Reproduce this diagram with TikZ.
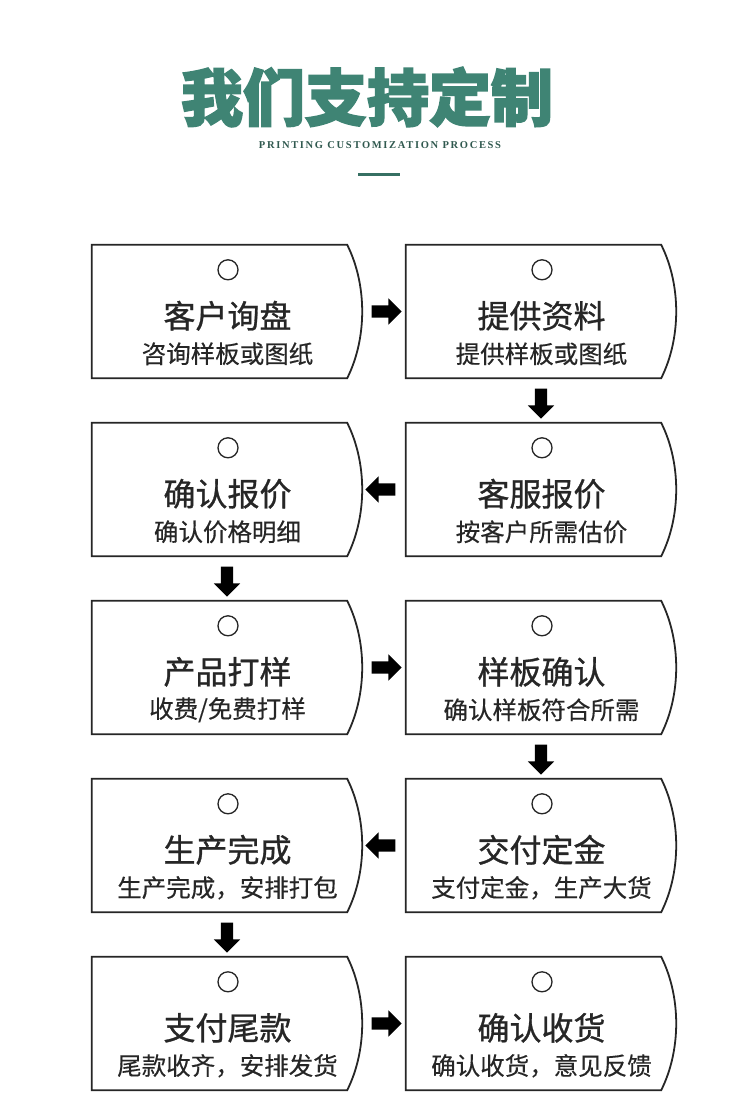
\documentclass[tikz,border=0pt]{standalone}
\usepackage{fontspec}
\newfontfamily\cjk{Noto Sans CJK SC}
\newfontfamily\cjkmid[FakeBold=0.9]{Noto Sans CJK SC}
\newfontfamily\cjklite[FakeBold=0.3]{Noto Sans CJK SC}
\newfontfamily\cjkheavy[BoldFeatures={FakeBold=2.5}]{Noto Sans CJK SC}
\newfontfamily\spaced[LetterSpace=16]{Liberation Serif}
\usepackage{xcolor}
\usepackage{tikz}
\usetikzlibrary{positioning,calc,shapes.arrows}
\definecolor{brand}{HTML}{3F8474}
\definecolor{brandDark}{HTML}{30594F}
\definecolor{ink}{HTML}{262626}

\begin{document}
\begin{tikzpicture}[x=1pt,y=-1pt,
  card/.style={minimum width=255pt,minimum height=133pt,inner sep=0pt},
  edge/.style={draw=ink,line width=1.8pt,line join=miter},
  ring/.style={circle,draw=ink,line width=1.3pt,minimum size=20pt,inner sep=0pt},
  ttl/.style={font=\cjkmid\fontsize{32}{36}\selectfont,text=ink,inner sep=0pt},
  sub/.style={font=\cjklite\fontsize{24.5}{28}\selectfont,text=ink,inner sep=0pt},
  blk/.style={single arrow,fill=black,draw=none,inner sep=6pt,minimum height=30pt,
    single arrow head extend=7pt,single arrow tip angle=90}]
  \useasboundingbox[fill=white] (0,0) rectangle (750,1103);
  % heading
  \node[font=\cjkheavy\bfseries\fontsize{62}{66}\selectfont,text=brand,inner sep=0pt] (head) at (367,97) {我们支持定制};
  \node[font=\spaced\bfseries\fontsize{10.5}{12}\selectfont,text=brandDark,inner sep=0pt] (tag) at (380,145) {PRINTING CUSTOMIZATION PROCESS};
  \draw[brand!85!black,line width=3pt] (358,174) -- (400,174);
  % the ten steps
  \foreach \n/\x/\y/\t/\s in {
    s1/219.5/311.5/客户询盘/咨询样板或图纸,
    s2/533.5/311.5/提供资料/提供样板或图纸,
    s3/533.5/489.5/客服报价/按客户所需估价,
    s4/219.5/489.5/确认报价/确认价格明细,
    s5/219.5/667.5/产品打样/{收费/免费打样},
    s6/533.5/667.5/样板确认/确认样板符合所需,
    s7/533.5/845.5/交付定金/支付定金，生产大货,
    s8/219.5/845.5/生产完成/生产完成，安排打包,
    s9/219.5/1023.5/支付尾款/尾款收齐，安排发货,
    s10/533.5/1023.5/确认收货/确认收货，意见反馈}{
    \node[card] (\n) at (\x,\y) {};
    \draw[edge] (\n.north west) -- (\n.north east) .. controls +(20,40) and +(20,-40) .. (\n.south east) -- (\n.south west) -- cycle;
    \node[ring] (\n-o) at ($(\n.north)+(8.5,25)$) {};
    \node[ttl] (\n-t) at ($(\n.north)+(8,71)$) {\t};
    \node[sub] (\n-s) at ($(\n.north)+(8,109)$) {\s};
  }
  % arrows between steps
  \node[blk] (a1) at ($(s1.east)!0.5!(s2.west)+(7,0)$) {};
  \node[blk,shape border rotate=270] (a2) at ($(s2.south)!0.5!(s3.north)+(7.5,0)$) {};
  \node[blk,shape border rotate=180] (a3) at ($(s4.east)!0.5!(s3.west)+(7,0)$) {};
  \node[blk,shape border rotate=270] (a4) at ($(s4.south)!0.5!(s5.north)+(7.5,0)$) {};
  \node[blk] (a5) at ($(s5.east)!0.5!(s6.west)+(7,0)$) {};
  \node[blk,shape border rotate=270] (a6) at ($(s6.south)!0.5!(s7.north)+(7.5,0)$) {};
  \node[blk,shape border rotate=180] (a7) at ($(s8.east)!0.5!(s7.west)+(7,0)$) {};
  \node[blk,shape border rotate=270] (a8) at ($(s8.south)!0.5!(s9.north)+(7.5,0)$) {};
  \node[blk] (a9) at ($(s9.east)!0.5!(s10.west)+(7,0)$) {};
\end{tikzpicture}
\end{document}
